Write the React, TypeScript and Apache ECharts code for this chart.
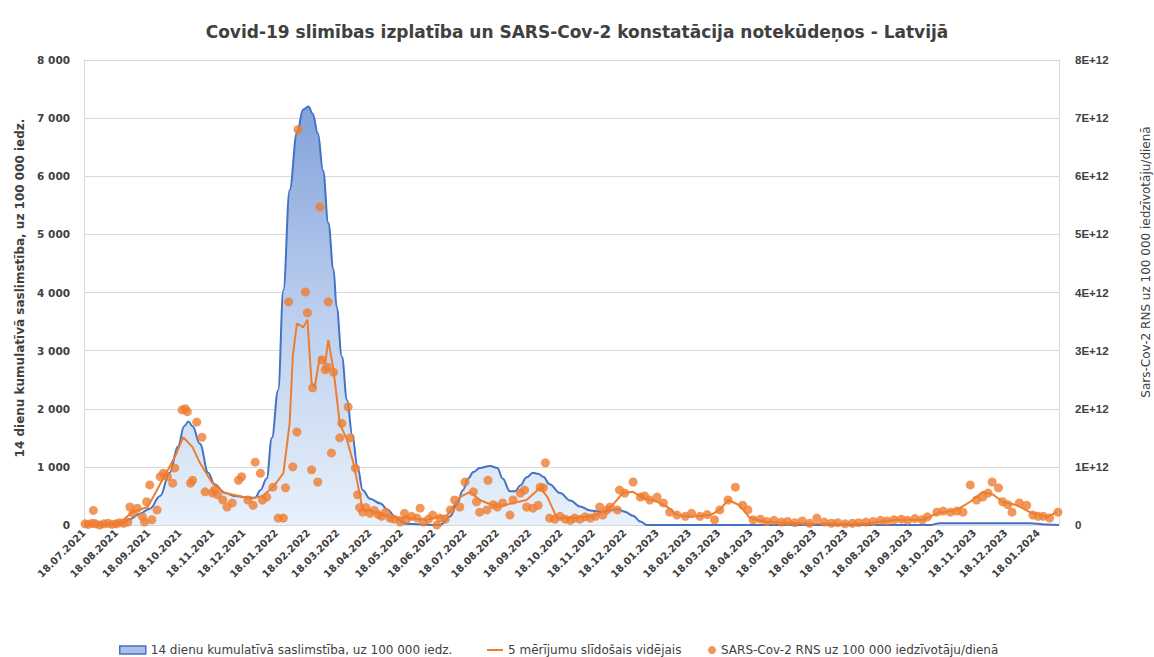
import React, { useEffect, useRef } from "react";
import * as echarts from "echarts";

// Day offsets are counted from START_DATE (18.07.2021)
const START_DATE = Date.UTC(2021, 6, 18);
const AXIS_MAX_DAY = 934;
const LABEL_MONTHS = 31; // 18.07.2021 ... 18.01.2024

const TITLE = "Covid-19 slimības izplatība un SARS-Cov-2 konstatācija notekūdeņos - Latvijā";
const LEFT_NAME = "14 dienu kumulatīvā saslimstība, uz 100 000 iedz.";
const RIGHT_NAME = "Sars-Cov-2 RNS uz 100 000 iedzīvotāju/dienā";
const S_INC = "14 dienu kumulatīvā saslimstība, uz 100 000 iedz.";
const S_MA = "5 mērījumu slīdošais vidējais";
const S_RNA = "SARS-Cov-2 RNS uz 100 000 iedzīvotāju/dienā";

// [day offset, 14-day cumulative incidence per 100 000]
const incidence: [number, number][] = [
  [0, 0], [15, 0], [34, 20], [44, 100], [54, 200], [63, 280], [73, 500], [82, 900], [90, 1350],
  [96, 1700], [100, 1780], [104, 1700], [111, 1400], [119, 900], [125, 700], [135, 550], [145, 500],
  [154, 480], [164, 470], [169, 600], [175, 800], [180, 1500], [186, 2320], [191, 4040], [197, 5760],
  [204, 6750], [210, 7150], [215, 7200], [219, 7080], [224, 6740], [229, 6100], [234, 5200], [239, 4400],
  [242, 3750], [247, 2900], [252, 2150], [257, 1550], [262, 1000], [267, 600], [274, 450], [284, 370],
  [291, 260], [299, 120], [308, 20], [341, 0], [351, 150], [357, 350], [363, 600], [368, 800], [373, 910],
  [379, 980], [389, 1015], [396, 980], [401, 800], [408, 580], [413, 580], [418, 680], [424, 820],
  [430, 900], [435, 880], [440, 830], [446, 700], [456, 550], [466, 420], [475, 320], [485, 250],
  [494, 230], [504, 250], [511, 270], [518, 230], [526, 160], [533, 60], [539, 0], [590, 0], [686, 0],
  [782, 0], [810, 0], [820, 30], [906, 30], [921, 10], [934, 0],
];

// [day offset, RNA copies per 100 000 per day, in units of 1E+12] — 5 measurement moving average
const movingAverage: [number, number][] = [
  [0, 0.02], [15, 0.02], [34, 0.03], [46, 0.22], [61, 0.31], [75, 0.77], [87, 1.17], [95, 1.51],
  [104, 1.34], [111, 1.07], [123, 0.72], [135, 0.55], [149, 0.5], [159, 0.45], [171, 0.5], [181, 0.65],
  [191, 0.89], [197, 1.75], [200, 2.9], [204, 3.47], [210, 3.4], [214, 3.53], [218, 2.44], [221, 2.37],
  [226, 2.9], [231, 2.78], [234, 3.18], [239, 2.67], [245, 1.75], [252, 1.46], [258, 1.07], [262, 0.72],
  [267, 0.26], [271, 0.26], [293, 0.14], [309, 0.12], [329, 0.09], [348, 0.17], [360, 0.48], [370, 0.57],
  [379, 0.43], [396, 0.31], [411, 0.38], [424, 0.43], [437, 0.64], [444, 0.48], [453, 0.12], [468, 0.12],
  [488, 0.15], [504, 0.29], [516, 0.55], [526, 0.57], [536, 0.46], [549, 0.4], [559, 0.31], [568, 0.17],
  [581, 0.14], [600, 0.17], [609, 0.26], [617, 0.43], [628, 0.34], [638, 0.12], [654, 0.05], [686, 0.03],
  [718, 0.02], [746, 0.02], [779, 0.09], [804, 0.09], [817, 0.2], [836, 0.26], [849, 0.4], [861, 0.57],
  [871, 0.52], [880, 0.4], [894, 0.34], [906, 0.22], [923, 0.14], [932, 0.22],
];

// [day offset, RNA copies per 100 000 per day, in units of 1E+12] — single measurements
const rnaSamples: [number, number][] = [
  [1, 0.02], [4, 0.01], [8, 0.03], [9, 0.25], [11, 0.02], [15, 0], [19, 0.02], [23, 0.03], [27, 0.01],
  [31, 0.02], [34, 0.04], [38, 0.03], [42, 0.05], [44, 0.31], [47, 0.2], [51, 0.29], [56, 0.14], [58, 0.05],
  [60, 0.4], [63, 0.69], [65, 0.09], [70, 0.26], [73, 0.83], [76, 0.89], [80, 0.83], [85, 0.72], [87, 0.98],
  [94, 1.98], [97, 2.0], [99, 1.95], [102, 0.72], [104, 0.77], [108, 1.77], [113, 1.51], [116, 0.57],
  [123, 0.55], [125, 0.6], [128, 0.52], [133, 0.43], [137, 0.31], [142, 0.38], [148, 0.77], [151, 0.83],
  [157, 0.43], [162, 0.34], [164, 1.08], [169, 0.89], [171, 0.43], [175, 0.48], [181, 0.65], [186, 0.12],
  [191, 0.12], [193, 0.64], [196, 3.84], [200, 1.0], [204, 1.6], [205, 6.8], [212, 4.01], [214, 3.65],
  [218, 0.95], [219, 2.36], [224, 0.74], [226, 5.47], [228, 2.84], [231, 2.67], [233, 2.72], [234, 3.84],
  [237, 1.24], [239, 2.63], [245, 1.5], [247, 1.75], [253, 2.03], [255, 1.5], [260, 0.98], [262, 0.52],
  [264, 0.3], [267, 0.22], [270, 0.3], [274, 0.2], [278, 0.25], [282, 0.18], [285, 0.15], [289, 0.22],
  [293, 0.12], [297, 0.1], [303, 0.05], [307, 0.2], [309, 0.1], [314, 0.15], [319, 0.12], [322, 0.29],
  [325, 0.05], [330, 0.1], [334, 0.17], [338, 0], [341, 0.12], [346, 0.1], [351, 0.26], [355, 0.43],
  [360, 0.31], [365, 0.74], [373, 0.57], [376, 0.4], [379, 0.22], [386, 0.26], [387, 0.77], [392, 0.35],
  [396, 0.31], [401, 0.38], [408, 0.17], [411, 0.43], [418, 0.55], [422, 0.6], [424, 0.31], [430, 0.29],
  [435, 0.34], [437, 0.65], [440, 0.64], [442, 1.07], [446, 0.12], [451, 0.1], [456, 0.15], [461, 0.1],
  [466, 0.08], [470, 0.12], [475, 0.1], [480, 0.14], [485, 0.12], [490, 0.15], [494, 0.31], [497, 0.17],
  [501, 0.26], [504, 0.31], [511, 0.26], [513, 0.6], [518, 0.55], [526, 0.74], [533, 0.48], [537, 0.5],
  [542, 0.43], [549, 0.48], [555, 0.38], [561, 0.22], [568, 0.17], [576, 0.15], [582, 0.2], [590, 0.15],
  [597, 0.18], [604, 0.09], [609, 0.26], [617, 0.43], [624, 0.65], [631, 0.34], [636, 0.26], [641, 0.09],
  [648, 0.1], [654, 0.06], [661, 0.08], [668, 0.05], [674, 0.06], [681, 0.04], [688, 0.07], [695, 0.03],
  [702, 0.12], [709, 0.05], [716, 0.03], [722, 0.04], [729, 0.02], [736, 0.03], [742, 0.04], [749, 0.05],
  [756, 0.06], [763, 0.08], [769, 0.07], [776, 0.09], [783, 0.1], [789, 0.08], [796, 0.11], [803, 0.09],
  [808, 0.14], [817, 0.22], [823, 0.24], [830, 0.22], [836, 0.24], [842, 0.22], [849, 0.69], [855, 0.43],
  [861, 0.48], [866, 0.55], [870, 0.74], [876, 0.64], [880, 0.4], [885, 0.35], [889, 0.22], [896, 0.38],
  [903, 0.34], [909, 0.17], [914, 0.15], [919, 0.15], [925, 0.12], [933, 0.22],
];

const leftTicks = { min: 0, max: 8000, interval: 1000 };
const rightTicks = { min: 0, max: 8, interval: 1 }; // ×1E+12

const FONT = "'DejaVu Sans', sans-serif";
const FONT_NARROW = "'Liberation Sans', Arial, sans-serif";
const TEXT = "#404040";

function dayToDate(d: number) {
  return new Date(START_DATE + Math.round(d) * 86400000);
}
function formatDate(d: number) {
  const t = dayToDate(d);
  const dd = String(t.getUTCDate()).padStart(2, "0");
  const mm = String(t.getUTCMonth() + 1).padStart(2, "0");
  return `${dd}.${mm}.${t.getUTCFullYear()}`;
}
function monthTickDays() {
  const out: number[] = [];
  for (let m = 0; m < LABEL_MONTHS; m++) {
    const t = Date.UTC(2021, 6 + m, 18);
    out.push(Math.round((t - START_DATE) / 86400000));
  }
  return out;
}
function thousands(v: number) {
  return String(v).replace(/\B(?=(\d{3})+(?!\d))/g, " ");
}

export default function App() {
  const ref = useRef<HTMLDivElement>(null);
  useEffect(() => {
    if (!ref.current) return;
    const chart = echarts.init(ref.current, undefined, { renderer: "svg" });
    const ticks = monthTickDays();
    const legendText = { fontFamily: FONT, fontSize: 12, color: TEXT };
    chart.setOption({
      animation: false,
      backgroundColor: "#ffffff",
      textStyle: { fontFamily: FONT },
      title: {
        text: TITLE,
        left: "center",
        top: 18,
        textStyle: { fontFamily: FONT, fontSize: 17, fontWeight: "bold", color: TEXT },
      },
      grid: { left: 84, right: 95, top: 60, bottom: 132 },
      legend: [
        {
          data: [{ name: S_INC, icon: "rect", itemStyle: { color: "#a9c1e8", borderColor: "#4472c4", borderWidth: 1.5 } }],
          left: 114, top: 639, itemWidth: 26, itemHeight: 8,
          textStyle: legendText,
        },
        {
          data: [{ name: S_MA, icon: "rect", itemStyle: { color: "#ed7d31" } }],
          left: 482, top: 639, itemWidth: 16, itemHeight: 2,
          textStyle: legendText,
        },
        {
          data: [{ name: S_RNA, icon: "circle" }],
          left: 703, top: 639, itemWidth: 8, itemHeight: 8,
          textStyle: legendText,
        },
      ],
      xAxis: {
        type: "value",
        min: 0,
        max: AXIS_MAX_DAY,
        axisLine: { show: true, lineStyle: { color: "#d9d9d9" } },
        axisTick: { show: false },
        splitLine: { show: false },
        axisLabel: {
          customValues: ticks,
          rotate: 45,
          margin: 6,
          fontSize: 10,
          fontWeight: "bold",
          color: TEXT,
          fontFamily: FONT,
          formatter: (v: number) => formatDate(v),
        },
      },
      yAxis: [
        {
          type: "value",
          ...leftTicks,
          axisLine: { show: true, lineStyle: { color: "#d9d9d9" } },
          axisTick: { show: false },
          splitLine: { show: true, lineStyle: { color: "#d9d9d9", width: 1 } },
          axisLabel: {
            fontSize: 10.5, fontWeight: "bold", color: TEXT, fontFamily: FONT, margin: 14,
            formatter: (v: number) => thousands(v),
          },
        },
        {
          type: "value",
          ...rightTicks,
          position: "right",
          axisLine: { show: true, lineStyle: { color: "#d9d9d9" } },
          axisTick: { show: false },
          splitLine: { show: false },
          axisLabel: {
            fontSize: 11.5, fontWeight: "bold", color: TEXT, fontFamily: FONT_NARROW, margin: 16,
            formatter: (v: number) => (v === 0 ? "0" : `${v}E+12`),
          },
        },
      ],
      graphic: [
        {
          type: "text", x: 20, y: 288, rotation: Math.PI / 2,
          style: { text: LEFT_NAME, fill: TEXT, font: `bold 12px ${FONT}`, align: "center", verticalAlign: "middle" },
        },
        {
          type: "text", x: 1146, y: 262, rotation: Math.PI / 2,
          style: { text: RIGHT_NAME, fill: TEXT, font: `12px ${FONT}`, align: "center", verticalAlign: "middle" },
        },
      ],
      series: [
        {
          name: S_INC,
          type: "line",
          yAxisIndex: 0,
          data: incidence,
          smooth: 0.4,
          smoothMonotone: "x",
          symbol: "none",
          lineStyle: { color: "#4472c4", width: 2 },
          itemStyle: { color: "#4472c4" },
          areaStyle: {
            color: new echarts.graphic.LinearGradient(0, 0, 0, 1, [
              { offset: 0, color: "#84a2da" },
              { offset: 0.5, color: "#bccfee" },
              { offset: 1, color: "#e8f1fb" },
            ]),
            opacity: 1,
          },
          z: 1,
        },
        {
          name: S_MA,
          type: "line",
          yAxisIndex: 1,
          data: movingAverage,
          symbol: "none",
          lineStyle: { color: "#ed7d31", width: 2 },
          itemStyle: { color: "#ed7d31" },
          z: 2,
        },
        {
          name: S_RNA,
          type: "scatter",
          yAxisIndex: 1,
          data: rnaSamples,
          symbol: "circle",
          symbolSize: 9,
          itemStyle: { color: "#ed7d31" },
          z: 3,
        },
      ],
    });
    return () => chart.dispose();
  }, []);
  return (
    <div
      ref={ref}
      style={{ position: "fixed", left: 0, top: 0, width: 1154, height: 657, background: "#fff" }}
    />
  );
}
